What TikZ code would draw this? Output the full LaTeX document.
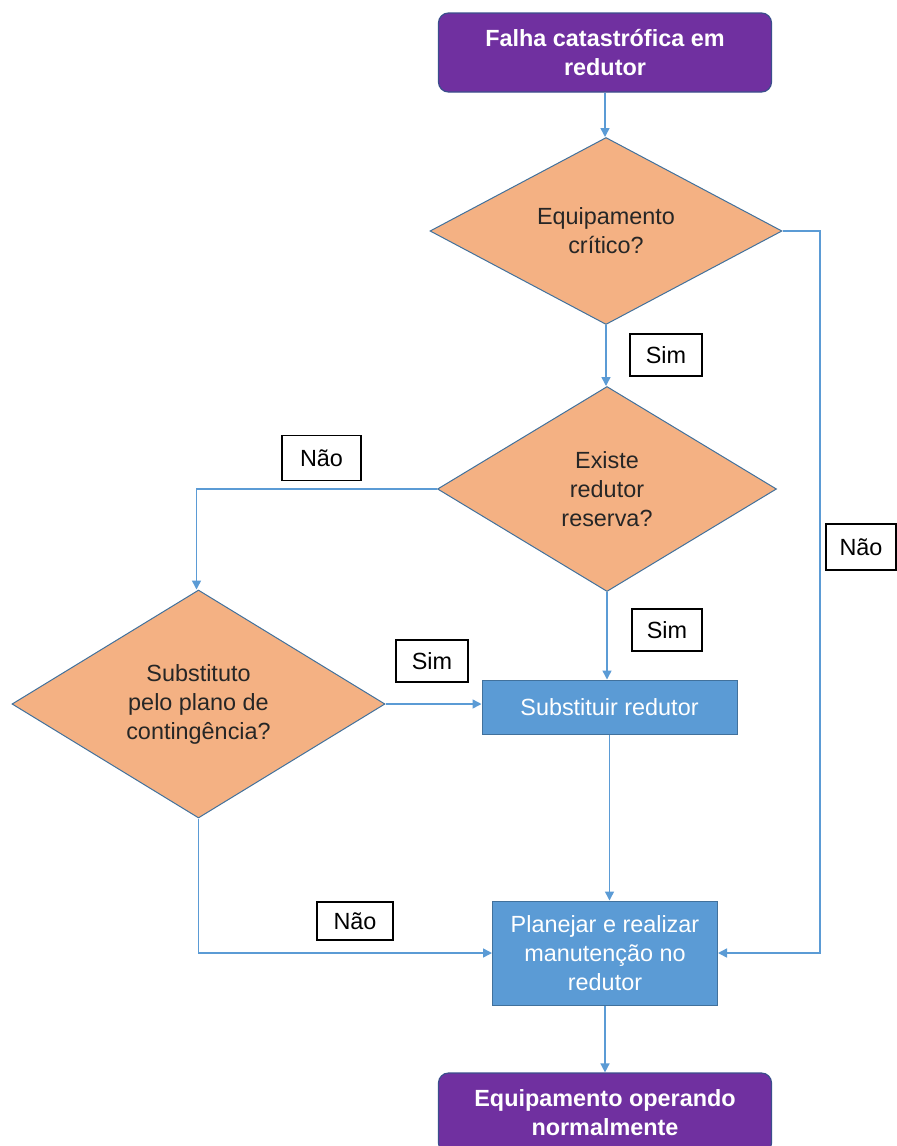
\documentclass[tikz,border=0pt]{standalone}
\usepackage{fontspec}
\setmainfont{Liberation Sans}
\usetikzlibrary{shapes.geometric,arrows.meta}
\definecolor{purp}{HTML}{7030A0}
\definecolor{purpedge}{HTML}{3B4E8C}
\definecolor{orng}{HTML}{F4B183}
\definecolor{blueline}{HTML}{5B9BD5}
\definecolor{bluebox}{HTML}{5B9BD5}
\definecolor{blueedge}{HTML}{41719C}
\tikzset{
  txt/.style={font=\fontsize{11.7}{14.5}\selectfont, align=center},
  terminal/.style={txt, font=\fontsize{11.7}{14.5}\selectfont\bfseries, text=white, fill=purp, draw=purpedge, line width=0.6pt, rounded corners=5pt, minimum width=166.5pt, minimum height=39.5pt, inner sep=0pt},
  decision/.style={txt, diamond, aspect=2, fill=orng, draw=blueedge, line width=0.5pt, inner sep=0pt, text=black!85},
  process/.style={txt, text=white, fill=bluebox, draw=blueedge, line width=0.5pt, inner sep=0pt},
  tag/.style={txt, draw=black, line width=0.6pt, fill=white, inner sep=0pt},
  conn/.style={draw=blueline, line width=0.75pt, -{Triangle[length=4.5pt,width=4.5pt]}},
}
\begin{document}
\begin{tikzpicture}[x=0.5pt, y=-0.5pt]
\useasboundingbox (0,0) rectangle (897,1146);
\clip (0,0) rectangle (897,1146);
\fill[white] (0,0) rectangle (897,1146);

\node[terminal] (top) at (605,52.5) {Falha catastrófica em\\redutor};
\node[decision, minimum width=176pt, minimum height=93.5pt] (d1) at (606,231) {Equipamento\\crítico?};
\node[decision, minimum width=169.5pt, minimum height=102.5pt] (d2) at (607,489) {Existe\\redutor\\reserva?};
\node[decision, minimum width=186.5pt, minimum height=114pt] (d3) at (198.5,704) {Substituto\\pelo plano de\\contingência?};
\node[process, minimum width=127.5pt, minimum height=27pt] (sub) at (609.5,707) {Substituir redutor};
\node[process, minimum width=112.5pt, minimum height=52pt] (plan) at (605,953) {Planejar e realizar\\manutenção no\\redutor};
\node[terminal, minimum height=40pt] (bot) at (605,1113) {Equipamento operando\\normalmente};

\node[tag, minimum width=36pt, minimum height=21pt] (sim1) at (666,355) {Sim};
\node[tag, minimum width=39.5pt, minimum height=22.5pt] (nao1) at (321.5,458) {Não};
\node[tag, minimum width=36pt, minimum height=21pt] (sim2) at (432,661) {Sim};
\node[tag, minimum width=35pt, minimum height=21pt] (sim3) at (667,630) {Sim};
\node[tag, minimum width=38pt, minimum height=19pt] (nao3) at (355,921) {Não};
\node[tag, minimum width=35pt, minimum height=23pt] (nao2) at (861,547) {Não};

\coordinate (c1) at (820,231);

\draw[conn] (top.south) -- (top.south |- d1.north);
\draw[conn] (d1.south) -- (d1.south |- d2.north);
\draw[conn] (d1.east) -- (c1) |- (plan.east);
\draw[conn] (d2.west) -| ([xshift=-1pt]d3.north);
\draw[conn] (d2.south) -- (d2.south |- sub.north);
\draw[conn] (d3.east) -- (d3.east -| sub.west);
\draw[conn] (d3.south) |- (plan.west);
\draw[conn] (sub.south) -- (sub.south |- plan.north);
\draw[conn] (plan.south) -- (plan.south |- bot.north);
\end{tikzpicture}
\end{document}
